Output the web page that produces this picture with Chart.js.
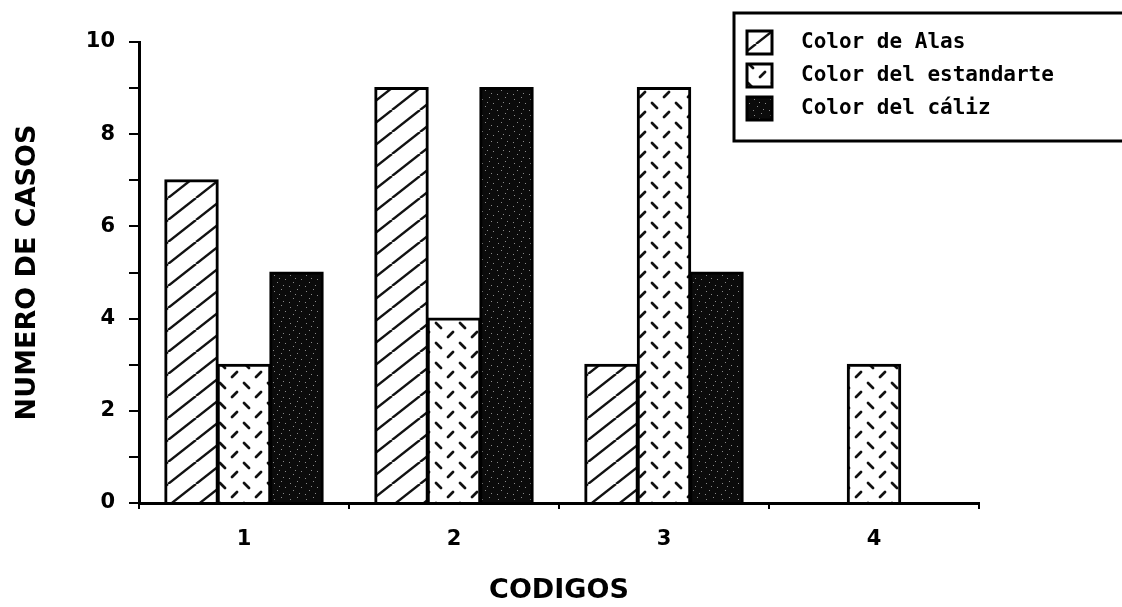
<!DOCTYPE html>
<html>
<head>
<meta charset="utf-8">
<script src="https://cdn.jsdelivr.net/npm/chart.js@4.4.1/dist/chart.umd.min.js"></script>
<style>
  html, body { margin: 0; padding: 0; background: #fff; }
  canvas { display: block; }
</style>
</head>
<body>
<canvas id="chart" width="1122" height="607"></canvas>
<script>
const codigos = ["1", "2", "3", "4"];
const colorAlas = [7, 9, 3, 0];
const colorEstandarte = [3, 4, 9, 3];
const colorCaliz = [5, 9, 5, 0];
const seriesNames = ["Color de Alas", "Color del estandarte", "Color del cáliz"];

// small tiles used as bar fills
function makeTile(w, h, paint) {
  const c = document.createElement("canvas");
  c.width = w;
  c.height = h;
  const g = c.getContext("2d");
  paint(g, w, h);
  return g.createPattern(c, "repeat");
}

// diagonal hatching "/"
const hatch = makeTile(28, 22, (g, w, h) => {
  g.fillStyle = "#fff";
  g.fillRect(0, 0, w, h);
  g.strokeStyle = "#111";
  g.lineWidth = 2.4;
  [-w, 0, w].forEach((dx) => {
    g.beginPath();
    g.moveTo(dx, h);
    g.lineTo(dx + w, 0);
    g.stroke();
  });
});

// short dashes, "\" and "/" on alternate rows
const dashes = makeTile(24, 20, (g, w, h) => {
  g.fillStyle = "#fff";
  g.fillRect(0, 0, w, h);
  g.strokeStyle = "#111";
  g.lineWidth = 2.8;
  g.lineCap = "round";
  g.beginPath();
  g.moveTo(4, 3);
  g.lineTo(9, 8);
  g.moveTo(16, 17);
  g.lineTo(21, 12);
  g.stroke();
});

// near-black with a few light specks
const dark = makeTile(16, 16, (g, w, h) => {
  g.fillStyle = "#0b0b0b";
  g.fillRect(0, 0, w, h);
  g.fillStyle = "#8a8a8a";
  [[2, 3], [9, 1], [13, 7], [5, 10], [11, 13], [1, 14], [7, 6]].forEach(([x, y]) => {
    g.fillRect(x, y, 1, 1);
  });
});

const legendBox = {
  id: "legendBox",
  afterDraw(chart) {
    const ctx = chart.ctx;
    ctx.save();
    ctx.strokeStyle = "#000";
    ctx.lineWidth = 3;
    ctx.strokeRect(734, 13, 420, 128);
    ctx.font = "bold 21px 'DejaVu Sans Mono'";
    ctx.textBaseline = "middle";
    chart.data.datasets.forEach((ds, i) => {
      const y = 31 + i * 33;
      ctx.fillStyle = ds.backgroundColor;
      ctx.fillRect(747, y, 25, 23);
      ctx.lineWidth = 3;
      ctx.strokeRect(747, y, 25, 23);
      ctx.fillStyle = "#000";
      ctx.fillText(ds.label, 801, y + 12);
    });
    ctx.restore();
  }
};

const tickFont = { family: "DejaVu Sans", size: 21, weight: "bold" };
const titleFont = { family: "DejaVu Sans", size: 27, weight: "bold" };

const ctx = document.getElementById("chart").getContext("2d");
new Chart(ctx, {
  type: "bar",
  data: {
    labels: codigos,
    datasets: [
      { label: seriesNames[0], data: colorAlas, backgroundColor: hatch },
      { label: seriesNames[1], data: colorEstandarte, backgroundColor: dashes },
      { label: seriesNames[2], data: colorCaliz, backgroundColor: dark }
    ]
  },
  options: {
    responsive: false,
    animation: false,
    layout: { padding: { top: 42, right: 143, bottom: 0, left: 0 } },
    datasets: {
      bar: {
        borderColor: "#000",
        borderWidth: 3,
        inflateAmount: 1,
        categoryPercentage: 0.75,
        barPercentage: 1
      }
    },
    plugins: {
      legend: { display: false },
      tooltip: { enabled: false }
    },
    scales: {
      x: {
        afterFit: (scale) => { scale.height = 104; },
        grid: {
          drawOnChartArea: false,
          color: "#000",
          lineWidth: 2,
          tickLength: 6
        },
        border: { color: "#000", width: 3 },
        ticks: {
          color: "#000",
          font: tickFont,
          padding: 18
        },
        title: {
          display: true,
          text: "CODIGOS",
          color: "#000",
          font: titleFont,
          padding: { top: 4, bottom: 0 }
        }
      },
      y: {
        min: 0,
        max: 10,
        afterFit: (scale) => { scale.width = 139; },
        grid: {
          drawOnChartArea: false,
          color: "#000",
          lineWidth: 2,
          tickLength: 10
        },
        border: { color: "#000", width: 3 },
        ticks: {
          stepSize: 1,
          autoSkip: false,
          color: "#000",
          font: tickFont,
          padding: 14,
          callback: (v) => (v % 2 === 0 ? v : "")
        },
        title: {
          display: true,
          text: "NUMERO DE CASOS",
          color: "#000",
          font: titleFont,
          padding: { top: 12, bottom: 0 }
        }
      }
    }
  },
  plugins: [legendBox]
});
</script>
</body>
</html>
